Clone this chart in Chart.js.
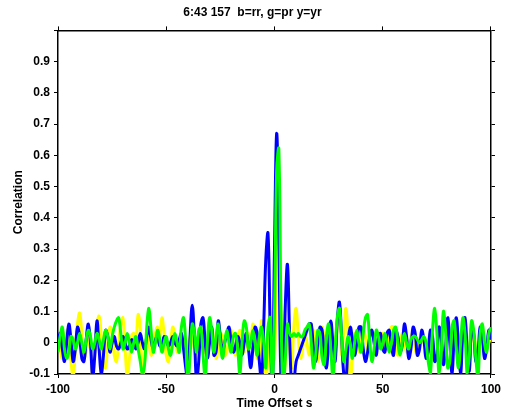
<!DOCTYPE html>
<html lang="en">
<head>
    <meta charset="UTF-8">
    <title>Correlation</title>
    <script src="https://cdn.jsdelivr.net/npm/chart.js"></script>
    <style>
        body { margin: 0; background: #fff; }
        canvas { display: block; }
    </style>
</head>
<body>
    <canvas id="corrChart" width="505" height="412"></canvas>

    <script>
        // time offsets, one per second from -100 to 100
        const offsets = [];
        for (let t = -100; t <= 100; t++) offsets.push(t);

        // b = rr
        const blueRR = [
            0.0, 0.03, -0.02, -0.06, 0.0, 0.06, 0.01, -0.06, -0.02, 0.05,
            0.02, -0.05, -0.06, 0.01, 0.06, 0.0, -0.11, -0.04, 0.07, -0.02,
            -0.10, -0.04, 0.04, 0.02, -0.03, 0.0, 0.02, -0.01, -0.02, 0.0,
            0.02, 0.0, -0.02, -0.01, 0.01, 0.0, -0.02, 0.0, 0.03, 0.0,
            -0.02, 0.02, 0.05, 0.01, -0.02, 0.01, 0.02, -0.01, -0.01, 0.02,
            0.01, -0.01, 0.0, 0.02, 0.0, -0.01, 0.01, 0.03, -0.02, -0.08,
            -0.12, 0.02, 0.12, 0.02, -0.12, -0.06, 0.06, 0.08, 0.0, -0.05,
            0.0, 0.05, -0.04, -0.03, 0.07, 0.02, -0.03, 0.0, 0.03, 0.05,
            0.0, -0.03, -0.01, 0.02, 0.0, -0.04, 0.0, 0.03, -0.02, -0.08,
            -0.02, 0.05, 0.03, -0.06, -0.12, 0.05, 0.27, 0.35, 0.05, -0.15,
            0.30,
            0.67, 0.35, -0.12, -0.14, 0.12, 0.25, 0.02, -0.14, -0.12, -0.06,
            -0.04, -0.02, 0.0, 0.02, 0.04, 0.06, 0.06, -0.02, -0.06, 0.0,
            0.05, 0.04, -0.04, -0.08, 0.0, 0.07, 0.0, -0.06, 0.07, 0.13,
            0.02, -0.10, -0.12, 0.0, 0.05, 0.01, -0.04, 0.0, 0.05, 0.05,
            -0.02, -0.06, -0.03, 0.02, 0.04, 0.0, -0.04, 0.02, 0.03, -0.02,
            -0.03, 0.03, 0.04, -0.01, -0.04, 0.04, 0.02, -0.03, -0.01, 0.06,
            0.02, -0.05, -0.02, 0.05, 0.03, -0.04, -0.02, 0.04, 0.01, -0.05,
            -0.03, 0.04, 0.02, -0.06, -0.04, 0.05, 0.02, -0.07, -0.02, 0.08,
            0.0, -0.10, 0.02, 0.08, -0.01, -0.10, 0.04, 0.08, -0.02, -0.09,
            0.05, 0.03, -0.06, -0.03, 0.05, 0.02, -0.05, -0.02, 0.04, 0.01
        ];

        // g = pr
        const greenPR = [
            -0.03, 0.02, 0.05, -0.02, -0.05, -0.03, 0.02, 0.01, -0.02, 0.0,
            0.03, 0.0, -0.03, 0.01, 0.04, 0.02, -0.02, 0.0, 0.03, 0.01,
            -0.02, 0.01, 0.04, 0.02, -0.02, 0.02, 0.05, 0.07, 0.08, 0.03,
            -0.02, 0.0, 0.03, 0.0, -0.03, 0.0, 0.02, -0.02, -0.06, -0.10,
            -0.07, 0.05, 0.11, 0.04, -0.03, 0.0, 0.04, 0.01, -0.03, 0.0,
            0.02, -0.02, -0.04, 0.0, 0.03, 0.0, -0.03, 0.05, 0.08, 0.0,
            -0.12, -0.04, 0.06, 0.03, -0.03, 0.04, 0.05, -0.04, -0.11, 0.0,
            0.08, 0.04, -0.03, 0.02, 0.06, 0.0, -0.05, 0.0, 0.04, 0.0,
            -0.03, 0.02, 0.03, -0.02, -0.10, 0.0, 0.07, 0.05, -0.02, 0.0,
            0.04, 0.0, -0.04, 0.02, 0.05, 0.0, -0.08, 0.05, 0.08, -0.14,
            0.10,
            0.55, 0.62, 0.10, -0.15, -0.05, 0.06, 0.03, 0.02, 0.03, 0.02,
            0.03, 0.02, 0.02, 0.04, 0.05, 0.06, 0.0, -0.08, -0.04, 0.04,
            0.03, -0.05, -0.07, 0.02, 0.06, -0.02, -0.11, -0.02, 0.08, 0.11,
            0.02, -0.06, -0.02, 0.02, -0.01, -0.05, 0.0, 0.04, 0.0, -0.03,
            0.03, 0.08, 0.09, 0.0, -0.06, -0.02, 0.04, 0.02, -0.02, 0.0,
            0.03, 0.0, -0.03, 0.0, 0.04, 0.05, 0.0, -0.04, 0.0, 0.03,
            0.0, -0.02, 0.01, 0.02, 0.02, 0.01, 0.0, 0.01, 0.02, 0.0,
            -0.06, -0.10, 0.04, 0.11, 0.03, -0.10, -0.04, 0.10, 0.04, -0.08,
            -0.06, 0.05, 0.07, -0.02, -0.08, 0.0, 0.08, 0.03, -0.10, -0.04,
            0.07, 0.04, -0.05, -0.11, 0.03, 0.06, 0.0, -0.03, 0.03, 0.05
        ];

        // y = yr
        const yellowYR = [
            0.03, -0.02, -0.05, 0.0, 0.04, 0.02, -0.06, -0.11, -0.03, 0.06,
            0.095, 0.03, -0.05, -0.03, 0.02, -0.02, -0.11, -0.04, 0.06, 0.085,
            0.02, -0.06, -0.08, 0.0, 0.05, 0.03, -0.04, -0.06, 0.0, 0.06,
            0.08, -0.02, -0.11, -0.05, 0.02, 0.03, 0.0, 0.09, 0.05, -0.11,
            -0.06, 0.02, 0.0, -0.04, -0.02, 0.03, 0.05, 0.02, 0.08, 0.03,
            -0.04, -0.06, 0.0, 0.05, 0.02, -0.03, -0.01, 0.02, 0.0, -0.03,
            -0.02, 0.02, 0.03, -0.02, -0.05, -0.01, 0.04, 0.02, -0.03, -0.04,
            0.02, 0.05, 0.0, -0.05, -0.02, 0.03, 0.02, -0.04, -0.03, 0.02,
            0.04, -0.01, -0.04, 0.0, 0.04, 0.01, -0.03, 0.0, 0.03, 0.0,
            0.06, 0.02, -0.05, -0.04, 0.07, 0.02, -0.12, -0.05, 0.02, -0.06,
            -0.05,
            0.25, 0.45, 0.08, -0.12, -0.06, 0.05, -0.02, -0.08, 0.06, 0.11,
            0.02, -0.05, -0.02, 0.03, 0.0, -0.04, 0.0, 0.04, -0.02, -0.06,
            0.0, 0.05, 0.01, -0.05, -0.03, 0.04, 0.02, -0.03, 0.08, 0.06,
            -0.04, 0.04, 0.11, 0.02, -0.12, -0.05, 0.03, 0.01, -0.03, 0.0,
            0.04, 0.02, -0.03, -0.02, 0.03, 0.02, -0.02, -0.01, 0.02, 0.03,
            0.0, -0.02, 0.02, 0.05, 0.05, -0.01, -0.04, 0.0, 0.03, 0.01,
            -0.03, -0.02, 0.02, 0.03, -0.02, -0.04, 0.0, 0.02, 0.0, -0.02,
            0.01, 0.03, 0.0, -0.03, 0.01, 0.04, 0.01, -0.04, -0.01, 0.03,
            0.01, -0.03, 0.0, 0.04, 0.02, -0.03, 0.0, 0.03, 0.0, -0.03,
            0.01, 0.03, -0.02, -0.05, 0.0, 0.04, 0.02, -0.02, 0.0, 0.02
        ];

        const xTicks = [-100, -50, 0, 50, 100];
        const yTicks = [-0.1, 0, 0.1, 0.2, 0.3, 0.4, 0.5, 0.6, 0.7, 0.8, 0.9, 1.0];

        const toPoints = vals => vals.map((v, i) => ({ x: offsets[i], y: v }));

        Chart.defaults.font.family = "'Liberation Sans', Arial, sans-serif";
        Chart.defaults.font.size = 12;
        Chart.defaults.font.weight = "bold";
        Chart.defaults.color = "#000";

        const lineStyle = {
            borderWidth: 3,
            pointRadius: 0,
            fill: false,
            tension: 0.4
        };

        // outward black ticks, no gridlines inside the box
        const frame = {
            drawOnChartArea: false,
            color: "#000",
            tickLength: 4,
            tickWidth: 1
        };

        const ctx = document.getElementById("corrChart").getContext("2d");
        new Chart(ctx, {
            type: "line",
            data: {
                datasets: [
                    { label: "g=pr", data: toPoints(greenPR), borderColor: "#00ff00", ...lineStyle },
                    { label: "b=rr", data: toPoints(blueRR), borderColor: "#0000ff", ...lineStyle },
                    { label: "y=yr", data: toPoints(yellowYR), borderColor: "#ffff00", ...lineStyle }
                ]
            },
            options: {
                responsive: false,
                animation: false,
                layout: { padding: 0 },
                plugins: {
                    legend: { display: false },
                    tooltip: { enabled: false },
                    title: {
                        display: true,
                        text: "6:43 157  b=rr, g=pr y=yr",
                        font: { size: 12, weight: "bold" },
                        padding: { top: 5, bottom: 0 }
                    }
                },
                scales: {
                    x: {
                        type: "linear",
                        position: "bottom",
                        min: -100, max: 100,
                        afterBuildTicks: s => { s.ticks = xTicks.map(v => ({ value: v })); },
                        ticks: { padding: 4, maxRotation: 0 },
                        grid: frame,
                        border: { color: "#000", width: 1.5 },
                        title: { display: true, text: "Time Offset s", padding: { top: 0, bottom: 1 } },
                        afterFit: s => { s.height = 38; }
                    },
                    x2: {
                        type: "linear",
                        position: "top",
                        min: -100, max: 100,
                        afterBuildTicks: s => { s.ticks = xTicks.map(v => ({ value: v })); },
                        ticks: { display: false },
                        grid: frame,
                        border: { color: "#000", width: 1.5 },
                        afterFit: s => { s.height = 11; }
                    },
                    y: {
                        min: -0.1, max: 1.0,
                        afterBuildTicks: s => { s.ticks = yTicks.map(v => ({ value: v })); },
                        ticks: {
                            padding: 4,
                            callback: v => (Math.abs(v - 1) < 1e-6 ? "" : String(Math.round(v * 10) / 10))
                        },
                        grid: frame,
                        border: { color: "#000", width: 1.5 },
                        title: { display: true, text: "Correlation", padding: { top: 11, bottom: 0 } },
                        afterFit: s => { s.width = 58; }
                    },
                    y2: {
                        position: "right",
                        min: -0.1, max: 1.0,
                        afterBuildTicks: s => { s.ticks = yTicks.map(v => ({ value: v })); },
                        ticks: { display: false },
                        grid: frame,
                        border: { color: "#000", width: 1.5 },
                        afterFit: s => { s.width = 12; }
                    }
                }
            }
        });
    </script>
</body>
</html>
